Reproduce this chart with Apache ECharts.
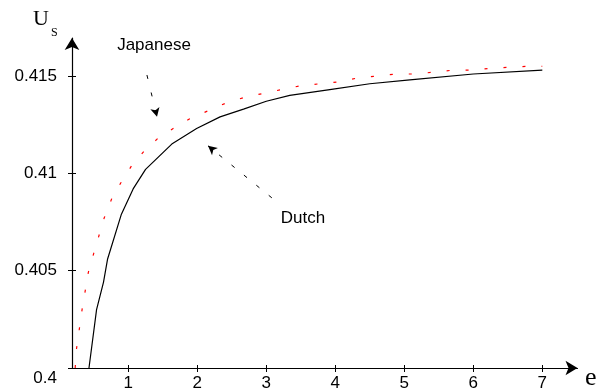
<!DOCTYPE html>
<html>
<head>
<meta charset="utf-8">
<script src="https://cdn.jsdelivr.net/npm/echarts@6/dist/echarts.min.js"></script>
<style>
  html, body { margin: 0; padding: 0; background: #fff; }
  #chart { width: 598px; height: 392px; }
</style>
</head>
<body>
<div id="chart"></div>
<script>
// Dutch curve (solid black)
const dutchE  = [0.43, 0.54, 0.64, 0.70, 0.90, 1.07, 1.25, 1.63, 1.99, 2.33, 2.67, 3.00, 3.34, 3.92, 4.50, 5.08, 6.00, 7.00];
const dutchUs = [0.4000, 0.4030, 0.4044, 0.4056, 0.4079, 0.4092, 0.4102, 0.4115, 0.4123, 0.4129, 0.4133, 0.4137, 0.4140, 0.4143, 0.4146, 0.4148, 0.4151, 0.4153];

// Japanese curve (red dotted)
const japanE  = [0.23, 0.25, 0.33, 0.42, 0.50, 0.65, 0.76, 0.89, 1.05, 1.22, 1.43, 1.65, 1.89, 2.15, 2.41, 2.68, 2.95, 3.22, 3.50, 3.78, 4.05, 4.33, 4.61, 4.88, 5.16, 5.44, 5.71, 5.99, 6.27, 6.55, 6.82, 7.00];
const japanUs = [0.4000, 0.4010, 0.4030, 0.4049, 0.4059, 0.4077, 0.4087, 0.4095, 0.4104, 0.4111, 0.4118, 0.4123, 0.4128, 0.4132, 0.4136, 0.4139, 0.4141, 0.4143, 0.4145, 0.4146, 0.4147, 0.4149, 0.4150, 0.4151, 0.4151, 0.4152, 0.4153, 0.4153, 0.4154, 0.41545, 0.4155, 0.4155];

// Tick values
const xTicks = [1, 2, 3, 4, 5, 6, 7];
const yTicks = [0.4, 0.405, 0.41, 0.415];

// Axis extents (axes run past the last tick to their arrowheads)
const xMin = 0.184, xMax = 7.51;
const yMin = 0.4, yMax = 0.41695;

// Pointer arrows from the curve names to the curves, in data units
const japanArrow = [[1.27, 0.41505], [1.416, 0.4129]];
const dutchArrow = [[3.08, 0.40874], [2.155, 0.41141]];

const pair = (xs, ys) => xs.map((x, i) => [x, ys[i]]);

const labelFont = 'Liberation Sans';
const chart = echarts.init(document.getElementById('chart'), null, { renderer: 'canvas' });

const baseX = {
  type: 'value', min: xMin, max: xMax,
  splitLine: { show: false }
};
const baseY = {
  type: 'value', min: yMin, max: yMax,
  splitLine: { show: false }
};

chart.setOption({
  animation: false,
  backgroundColor: '#fff',
  grid: { left: 72, right: 20.5, top: 38, bottom: 23.5 },
  xAxis: [
    Object.assign({}, baseX, {
      axisLine: { show: true, symbol: ['none', 'arrow'], symbolSize: [11, 12], lineStyle: { color: '#000', width: 1.2 } },
      axisTick: { show: true, length: 4, customValues: xTicks, lineStyle: { color: '#000' } },
      axisLabel: { customValues: xTicks, margin: 7, color: '#000', fontFamily: labelFont, fontSize: 17 }
    }),
    Object.assign({}, baseX, {
      position: 'bottom',
      axisLine: { show: false },
      axisTick: { show: true, inside: true, length: 3, customValues: xTicks, lineStyle: { color: '#000' } },
      axisLabel: { show: false }
    })
  ],
  yAxis: [
    Object.assign({}, baseY, {
      axisLine: { show: true, symbol: ['none', 'arrow'], symbolSize: [11, 12], lineStyle: { color: '#000', width: 1.2 } },
      axisTick: { show: true, length: 4, customValues: yTicks, lineStyle: { color: '#000' } },
      axisLabel: {
        customValues: yTicks, margin: 15, color: '#000', fontFamily: labelFont, fontSize: 17,
        formatter: v => (v === 0.4 ? '{low|0.4}' : String(+v.toFixed(3))),
        rich: { low: { fontFamily: labelFont, fontSize: 17, color: '#000', padding: [20, 0, 0, 0] } }
      }
    }),
    Object.assign({}, baseY, {
      position: 'left',
      axisLine: { show: false },
      axisTick: { show: true, inside: true, length: 4, customValues: yTicks, lineStyle: { color: '#000' } },
      axisLabel: { show: false }
    })
  ],
  series: [
    {
      name: 'Dutch', type: 'line', xAxisIndex: 0, yAxisIndex: 0,
      data: pair(dutchE, dutchUs),
      showSymbol: false, clip: true,
      lineStyle: { color: '#000', width: 1.2 },
      markLine: {
        silent: true, symbol: ['none', 'arrow'], symbolSize: [7, 9],
        label: { show: false },
        lineStyle: { color: '#000', type: [4, 12], width: 1 },
        data: [[{ coord: dutchArrow[0] }, { coord: dutchArrow[1] }]]
      }
    },
    {
      name: 'Japanese', type: 'line', xAxisIndex: 0, yAxisIndex: 0,
      data: pair(japanE, japanUs),
      showSymbol: false, clip: true,
      lineStyle: { color: '#ff0000', width: 1.2, type: [3, 16] },
      markLine: {
        silent: true, symbol: ['none', 'arrow'], symbolSize: [7, 9],
        label: { show: false },
        lineStyle: { color: '#000', type: [4, 14], width: 1 },
        data: [[{ coord: japanArrow[0] }, { coord: japanArrow[1] }]]
      }
    }
  ],
  graphic: [
    { type: 'text', left: 33, top: 8, style: { text: 'U', font: '22px "Liberation Serif"', fill: '#000' } },
    { type: 'text', left: 51, top: 27, style: { text: 'S', font: '12px "Liberation Serif"', fill: '#000' } },
    { type: 'text', left: 585, top: 365, style: { text: 'e', font: '26px "Liberation Serif"', fill: '#000' } },
    { type: 'text', x: 154, y: 45, style: { text: 'Japanese', font: '17px "Liberation Sans"', fill: '#000', align: 'center', verticalAlign: 'middle' } },
    { type: 'text', x: 303, y: 218, style: { text: 'Dutch', font: '17px "Liberation Sans"', fill: '#000', align: 'center', verticalAlign: 'middle' } }
  ]
});
</script>
</body>
</html>
